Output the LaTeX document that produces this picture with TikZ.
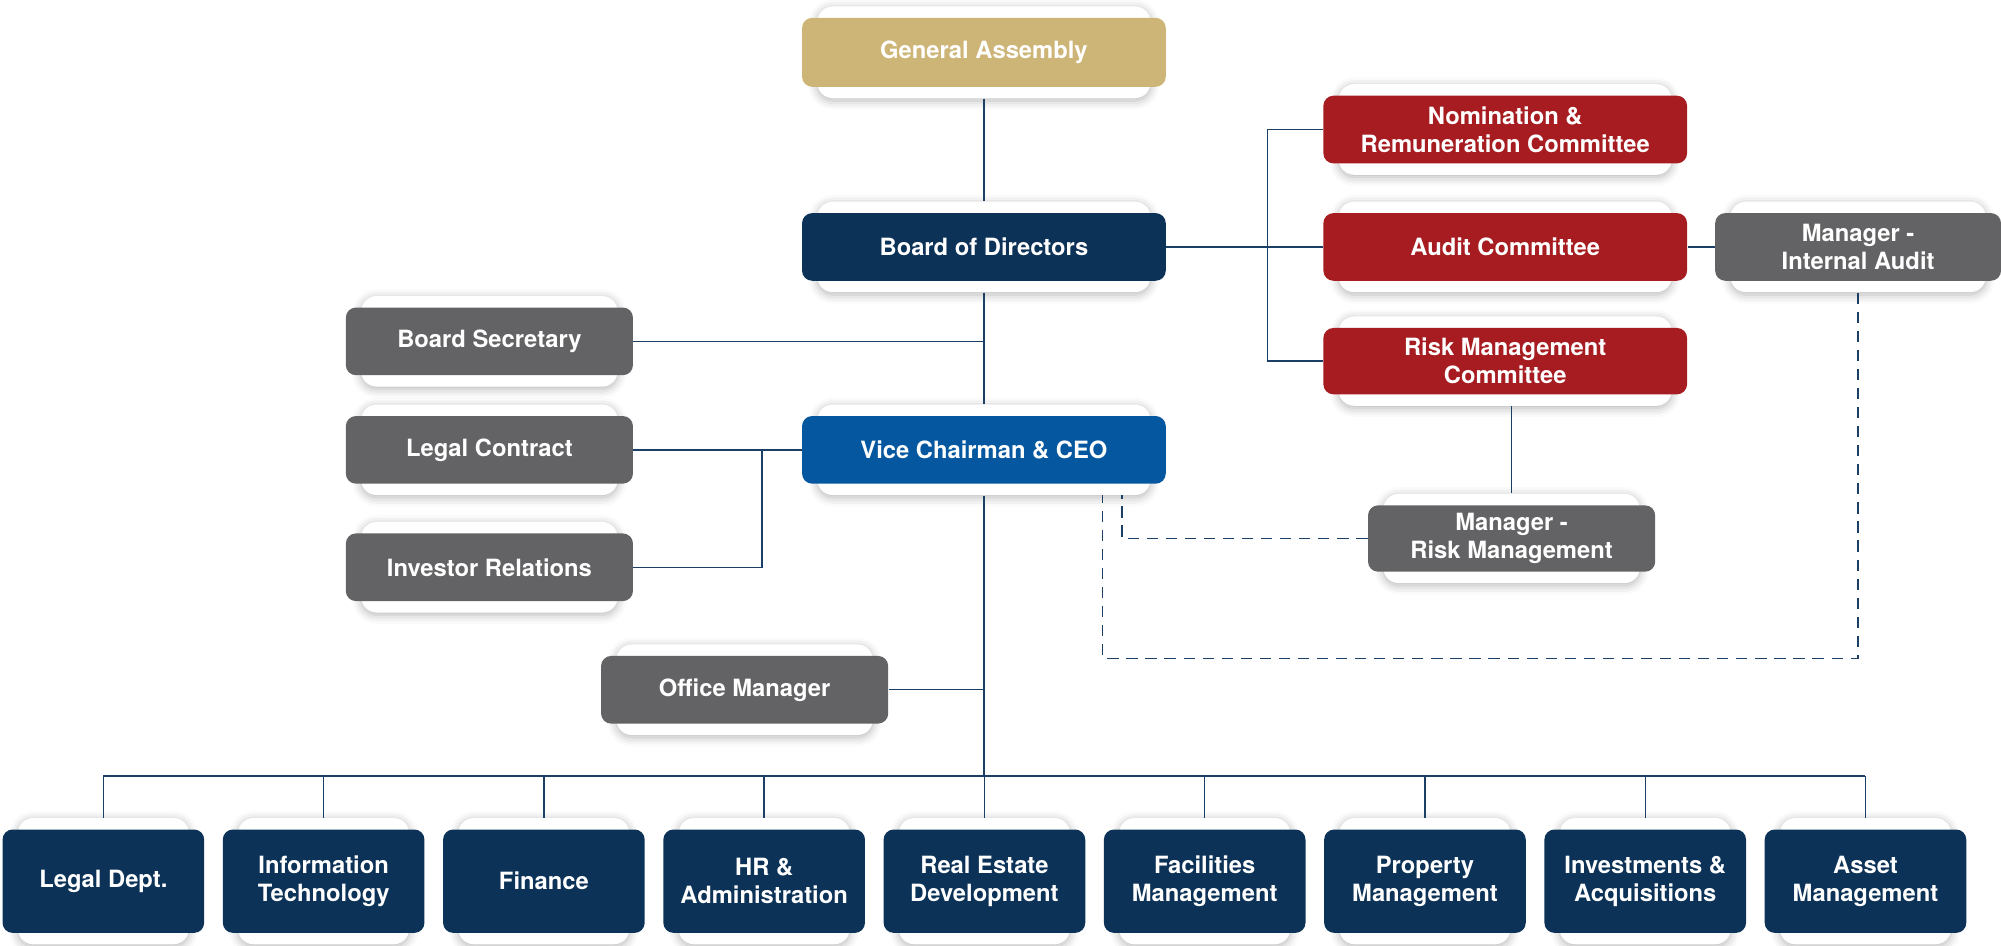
\documentclass[tikz,border=0pt]{standalone}
\usepackage{fontspec}
\setmainfont{TeX Gyre Heros}
\usetikzlibrary{shadows.blur}
\definecolor{cgold}{HTML}{CDB577}
\definecolor{cnavy}{HTML}{0C3257}
\definecolor{cred}{HTML}{A61C20}
\definecolor{cgray}{HTML}{636365}
\definecolor{cblue}{HTML}{0558A0}
\definecolor{cline}{HTML}{1C3F66}
\tikzset{
  card/.style={fill=white, rounded corners=7pt, inner sep=0pt,
    blur shadow={shadow xshift=0pt, shadow yshift=-1pt, shadow blur radius=4pt, shadow opacity=30}},
  obox/.style={rounded corners=4.5pt, text=white, inner sep=0pt, align=center,
    font=\bfseries\fontsize{10.6}{12.5}\selectfont},
  link/.style={draw=cline, line width=0.6pt},
  dlink/.style={link, line width=0.7pt, dash pattern=on 5pt off 3.5pt},
}
\newcommand\orgbox[7]{%
  \node[card, minimum width={(#4-24)*0.02cm}, minimum height={(#5+18)*0.02cm}] (#1c) at (#2,#3) {};
  \node[obox, fill=#6, minimum width={#4*0.02cm}, minimum height={#5*0.02cm}] (#1) at (#2,#3) {#7};}
\begin{document}
\begin{tikzpicture}[x=0.02cm, y=-0.02cm]
\useasboundingbox (0,0) rectangle (1568,741);
% top column
\orgbox{ga}{771}{41}{285}{54}{cgold}{General Assembly}
\orgbox{bod}{771}{193.5}{285}{53}{cnavy}{Board of Directors}
\orgbox{vc}{771}{352.5}{285}{53}{cblue}{Vice Chairman \& CEO}
% committees
\orgbox{nom}{1179.5}{101.5}{285}{53}{cred}{Nomination \&\\Remuneration Committee}
\orgbox{aud}{1179.5}{193.5}{285}{53}{cred}{Audit Committee}
\orgbox{rsk}{1179.5}{283}{285}{52}{cred}{Risk Management\\Committee}
\orgbox{mia}{1456}{193.5}{224}{53}{cgray}{Manager -\\Internal Audit}
\orgbox{mrm}{1184.5}{422}{225}{52}{cgray}{Manager -\\Risk Management}
% left staff
\orgbox{bs}{383.5}{267.5}{225}{53}{cgray}{Board Secretary}
\orgbox{lc}{383.5}{352.5}{225}{53}{cgray}{Legal Contract}
\orgbox{ir}{383.5}{444.5}{225}{53}{cgray}{Investor Relations}
\orgbox{om}{583.5}{540.5}{225}{53}{cgray}{Office Manager}
% departments
\orgbox{d1}{81}{690.5}{158}{81}{cnavy}{Legal Dept.}
\orgbox{d2}{253.6}{690.5}{158}{81}{cnavy}{Information\\Technology}
\orgbox{d3}{426.2}{690.5}{158}{81}{cnavy}{Finance}
\orgbox{d4}{598.8}{690.5}{158}{81}{cnavy}{HR \&\\Administration}
\orgbox{d5}{771.4}{690.5}{158}{81}{cnavy}{Real Estate\\Development}
\orgbox{d6}{944}{690.5}{158}{81}{cnavy}{Facilities\\Management}
\orgbox{d7}{1116.6}{690.5}{158}{81}{cnavy}{Property\\Management}
\orgbox{d8}{1289.2}{690.5}{158}{81}{cnavy}{Investments \&\\Acquisitions}
\orgbox{d9}{1461.8}{690.5}{158}{81}{cnavy}{Asset\\Management}
% coordinates
\coordinate (bus) at (771,608);
\coordinate (cj) at (993,193.5);
\coordinate (lcj) at (597,352.5);
\coordinate (da) at (879,388);
\coordinate (db) at (864,388);
\coordinate (dc) at (864,516);
% solid connectors
\draw[link] (gac.south) -- (bodc.north);
\draw[link] (bodc.south) -- (vcc.north);
\draw[link] (bs.east) -- (bs.east -| bodc.south);
\draw[link] (bod.east) -- (aud.west);
\draw[link] (nom.west) -| (cj) |- (rsk.west);
\draw[link] (aud.east) -- (mia.west);
\draw[link] (mrmc.north |- rskc.south) -- (mrmc.north);
\draw[link] (lc.east) -- (vc.west);
\draw[link] (ir.east) -| (lcj);
\draw[link] (vcc.south) -- (bus);
\draw[link] (om.east) -- (om.east -| bus);
\draw[link] (d1c.north |- bus) -- (d9c.north |- bus);
\foreach \d in {d1,d2,d3,d4,d5,d6,d7,d8,d9}
  \draw[link] (\d c.north) -- (\d c.north |- bus);
% dashed connectors
\draw[dlink] (mrm.west) -| (da);
\draw[dlink] (miac.south) |- (dc) -- (db);
\end{tikzpicture}
\end{document}
